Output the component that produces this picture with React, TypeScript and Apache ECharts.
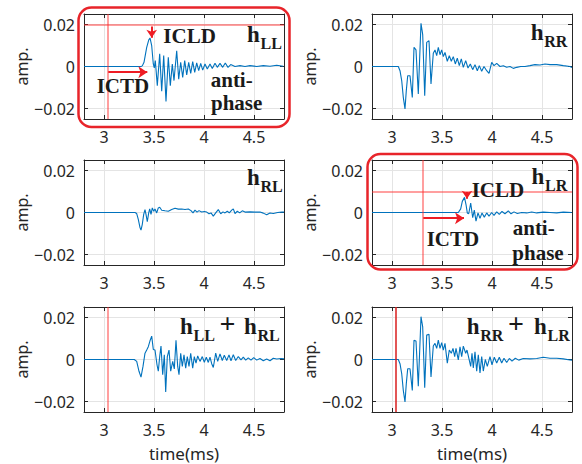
import React, { useEffect, useRef } from 'react';
import * as echarts from 'echarts';

// ---------- data (time in ms, amplitude) ----------
const timeMin = 2.8;
const timeMax = 4.8;
const ampMin = -0.025;
const ampMax = 0.025;

const hLL: [number, number][] = [
  [2.8, 0], [3.37, 0], [3.383, 0.0003], [3.4, 0.002], [3.427, 0.0091], [3.447, 0.0126], [3.46, 0.0136],
  [3.477, 0.0099], [3.493, 0.0012], [3.503, -0.0007], [3.513, 0.0028], [3.533, -0.0091], [3.557, 0.006],
  [3.577, -0.0118], [3.597, 0.0052], [3.62, -0.0166], [3.643, 0.0044], [3.663, -0.0091], [3.683, 0.0012],
  [3.7, -0.0067], [3.727, 0.0075], [3.747, -0.006], [3.767, 0.002], [3.787, -0.0052], [3.807, 0.0028],
  [3.827, -0.004], [3.847, 0.002], [3.867, -0.0033], [3.887, 0.0023], [3.907, -0.0028], [3.927, 0.0017],
  [3.947, -0.002], [3.967, 0.0015], [3.987, -0.0017], [4.01, 0.0012], [4.033, -0.0012], [4.06, 0.0012],
  [4.083, -0.0009], [4.11, 0.0015], [4.133, -0.0004], [4.16, 0.0015], [4.187, -0.0004], [4.213, 0.0017],
  [4.24, -0.0004], [4.267, 0.0009], [4.31, 0], [4.36, 0.0004], [4.41, 0], [4.46, 0.0004], [4.527, 0],
  [4.593, 0.0004], [4.66, 0.0001], [4.727, 0.0006], [4.793, 0.0001], [4.8, 0.0001],
];

const hRR: [number, number][] = [
  [2.8, 0], [3.063, 0], [3.08, -0.002], [3.097, -0.0067], [3.113, -0.0147], [3.13, -0.0202], [3.143, -0.0115],
  [3.157, -0.0044], [3.18, -0.0044], [3.203, -0.0147], [3.22, 0.0091], [3.24, 0.0079], [3.263, -0.0131],
  [3.29, 0.0206], [3.307, 0.0152], [3.327, -0.0139], [3.347, 0.0115], [3.37, 0.0123], [3.39, -0.0083],
  [3.413, 0.0063], [3.43, 0.0079], [3.447, 0.0052], [3.463, 0.0091], [3.48, 0.0056], [3.497, 0.0079],
  [3.513, 0.0047], [3.53, 0.0067], [3.553, 0.0025], [3.573, 0.0052], [3.593, 0.0025], [3.613, 0.0047],
  [3.633, 0.0012], [3.653, 0.004], [3.673, 0.0004], [3.693, 0.0036], [3.713, -0.0004], [3.737, 0.0028],
  [3.76, -0.0007], [3.783, 0.0012], [3.807, -0.0015], [3.83, 0.0009], [3.853, -0.002], [3.873, 0.0004],
  [3.897, -0.0023], [3.92, 0], [3.947, -0.002], [3.97, -0.0033], [3.997, 0.002], [4.02, 0.0004],
  [4.047, 0.0015], [4.08, 0], [4.113, 0.0004], [4.147, -0.0004], [4.18, 0], [4.213, -0.0009],
  [4.247, -0.0004], [4.287, 0], [4.33, 0], [4.38, 0.0004], [4.43, 0.0009], [4.48, 0.0007], [4.53, 0.0012],
  [4.58, 0.0009], [4.647, 0.0009], [4.713, 0.0004], [4.78, 0], [4.8, -0.0005],
];

const hRL: [number, number][] = [
  [2.8, 0], [3.31, 0], [3.327, -0.0005], [3.343, -0.0033], [3.36, -0.0072], [3.37, -0.0084], [3.383, -0.0056],
  [3.397, -0.0009], [3.41, 0.0014], [3.42, -0.0009], [3.433, -0.0044], [3.447, -0.0002], [3.457, 0.0017],
  [3.47, -0.0009], [3.483, 0.0022], [3.497, 0.0006], [3.51, 0.0017], [3.527, -0.0002], [3.543, 0.0022],
  [3.557, 0.0025], [3.577, 0.0011], [3.61, 0.0008], [3.643, 0.0006], [3.677, 0.0014], [3.71, 0.002],
  [3.743, 0.0016], [3.777, 0.0017], [3.81, 0.0014], [3.843, 0.0017], [3.87, 0.0009], [3.89, -0.0002],
  [3.91, 0.0011], [3.93, 0.0002], [3.95, 0.0009], [3.977, 0.0002], [4.003, 0.0005], [4.027, 0.0002],
  [4.05, -0.0006], [4.07, -0.0002], [4.093, -0.0017], [4.117, -0.0002], [4.143, 0.0014], [4.167, -0.0006],
  [4.19, 0.0003], [4.21, -0.0002], [4.233, 0.0006], [4.253, -0.0002], [4.277, 0.0011], [4.293, 0.0017],
  [4.31, -0.0005], [4.333, 0.0006], [4.357, -0.0002], [4.383, 0.0008], [4.41, 0.0002], [4.46, 0.0003],
  [4.51, 0.0002], [4.56, 0.0002], [4.593, -0.0003], [4.627, -0.0011], [4.66, -0.0002], [4.693, -0.0005],
  [4.737, 0], [4.777, 0.0002], [4.8, 0.0002],
];

const hLR: [number, number][] = [
  [2.8, 0], [3.663, 0], [3.687, 0.0017], [3.703, 0.0053], [3.725, 0.0072], [3.74, 0.0038], [3.753, -0.0002],
  [3.767, -0.0006], [3.787, 0.0045], [3.807, -0.0025], [3.823, 0.0011], [3.84, -0.0041], [3.86, -0.0002],
  [3.88, -0.0028], [3.9, -0.0002], [3.923, -0.0022], [3.947, -0.0002], [3.97, -0.0017], [3.997, 0],
  [4.02, -0.0014], [4.047, 0.0003], [4.073, -0.0009], [4.1, 0.0005], [4.13, -0.0006], [4.163, 0.0008],
  [4.19, -0.0006], [4.22, 0.0003], [4.253, -0.0005], [4.297, 0], [4.347, -0.0002], [4.397, 0.0002],
  [4.447, -0.0002], [4.513, 0.0002], [4.58, 0], [4.647, -0.0002], [4.713, 0.0002], [4.797, 0], [4.8, 0],
];

const hLLplusRL: [number, number][] = [
  [2.8, 0], [3.303, 0], [3.327, -0.0009], [3.35, -0.0056], [3.37, -0.0084], [3.39, -0.0033], [3.41, 0.003],
  [3.427, 0.0045], [3.443, 0.0061], [3.46, 0.0089], [3.477, 0.0111], [3.493, 0.0048], [3.51, 0.0045],
  [3.53, -0.0025], [3.543, -0.0056], [3.557, 0.0014], [3.57, 0.0064], [3.587, -0.0072], [3.603, 0.0022],
  [3.617, -0.0155], [3.633, 0.0014], [3.65, 0.0045], [3.667, -0.0056], [3.687, -0.0009], [3.703, -0.0045],
  [3.72, 0.0092], [3.737, -0.0033], [3.75, -0.0072], [3.767, 0.003], [3.783, -0.0033], [3.8, 0.0022],
  [3.817, -0.0041], [3.833, 0.0014], [3.85, -0.0033], [3.867, 0.003], [3.887, -0.0041], [3.903, 0.0014],
  [3.92, -0.0017], [3.937, 0.0017], [3.96, -0.0009], [3.983, 0.0014], [4.003, -0.0013], [4.023, 0.0011],
  [4.043, -0.0014], [4.06, 0.0011], [4.077, -0.002], [4.093, -0.0038], [4.117, 0.003], [4.137, -0.0009],
  [4.16, 0.0027], [4.183, -0.0005], [4.203, 0.002], [4.227, -0.0005], [4.25, 0.0022], [4.27, -0.0006],
  [4.293, 0.0023], [4.317, -0.0005], [4.343, 0.0014], [4.37, -0.0002], [4.393, 0.0011], [4.417, -0.0003],
  [4.443, 0.0008], [4.47, -0.0003], [4.497, 0.0009], [4.527, -0.0003], [4.56, 0.0005], [4.593, -0.0006],
  [4.627, 0.0002], [4.66, -0.0006], [4.693, 0.0006], [4.727, 0.0002], [4.77, 0.0005], [4.8, 0.0003],
];

const hRRplusLR: [number, number][] = [
  [2.8, 0], [3.063, 0], [3.08, -0.002], [3.097, -0.0067], [3.113, -0.0147], [3.13, -0.0202], [3.143, -0.0115],
  [3.157, -0.0044], [3.18, -0.0044], [3.203, -0.0147], [3.22, 0.0091], [3.24, 0.0088], [3.263, -0.0127],
  [3.29, 0.0204], [3.307, 0.0155], [3.327, -0.0134], [3.347, 0.0116], [3.37, 0.012], [3.39, -0.0083],
  [3.413, 0.0064], [3.43, 0.0077], [3.447, 0.0053], [3.463, 0.0092], [3.48, 0.0053], [3.497, 0.008],
  [3.513, 0.0045], [3.53, 0.0077], [3.553, -0.0017], [3.573, 0.0045], [3.593, 0.003], [3.61, 0.0053],
  [3.627, 0.0014], [3.64, 0.0053], [3.663, -0.0002], [3.68, 0.006], [3.697, 0.0014], [3.713, 0.0064],
  [3.737, 0.003], [3.75, 0.0045], [3.787, -0.0033], [3.8, 0.003], [3.813, -0.004], [3.83, 0.0037],
  [3.847, -0.0056], [3.863, 0.0022], [3.88, -0.0064], [3.897, 0.0014], [3.913, -0.0055], [3.933, 0],
  [3.953, -0.0033], [3.98, 0.0014], [4.0, -0.0025], [4.023, 0.0011], [4.047, -0.0017], [4.073, 0.0011],
  [4.097, -0.0017], [4.12, 0.0006], [4.147, -0.0014], [4.173, 0.0005], [4.2, -0.0008], [4.233, 0.0006],
  [4.267, -0.0003], [4.313, 0.0005], [4.38, 0.0003], [4.447, 0.0005], [4.513, 0.0011], [4.58, 0.0006],
  [4.647, 0.0006], [4.713, 0.0003], [4.78, -0.0002], [4.8, -0.0003],
];

// panel order: row-major, left then right
const panelData = [hLL, hRR, hRL, hLR, hLLplusRL, hRRplusLR];
// red reference lines per panel (null = none)
const refTimes: (number | null)[] = [3.043, null, null, 3.313, 3.043, 3.035];
const refAmps: (number | null)[] = [0.0198, null, null, 0.01, null, null];
// ICTD arrows: [panel, fromTime, toTime, amp]
const ictdArrows: [number, number, number, number][] = [
  [0, 3.043, 3.433, -0.0027],
  [3, 3.313, 3.72, -0.0027],
];
// ICLD arrows: [panel, time, fromAmp, toAmp]
const icldArrows: [number, number, number, number][] = [
  [0, 3.477, 0.019, 0.0137],
  [3, 3.75, 0.0098, 0.0066],
];

const xTickLabel = (v: number) => {
  const r = Math.round(v * 10) / 10;
  return String(r);
};
const yTickLabel = (v: number) => {
  if (Math.abs(v) < 1e-9) return '0';
  return (v < 0 ? '\u22120.' : '0.') + Math.abs(v).toFixed(2).split('.')[1];
};

export default function App() {
  const ref = useRef<HTMLDivElement>(null);

  useEffect(() => {
    document.body.style.margin = '0';
    if (!ref.current) return;
    const chart = echarts.init(ref.current, undefined, { renderer: 'svg' });

    const lefts = [84, 372];
    const tops = [14, 160, 307];
    const W = 200;
    const H = 105;
    const axisColor = '#262626';
    const gridColor = '#e4e4e4';
    const labelFont = { fontFamily: '"Noto Sans", sans-serif', fontSize: 16, color: axisColor };

    const grids: any[] = [];
    const xAxes: any[] = [];
    const yAxes: any[] = [];
    const series: any[] = [];

    panelData.forEach((data, i) => {
      const row = Math.floor(i / 2);
      const col = i % 2;
      grids.push({
        left: lefts[col], top: tops[row], width: W, height: H,
        show: false, containLabel: false, outerBoundsMode: 'none',
      });
      const common = {
        type: 'value', gridIndex: i, min: timeMin, max: timeMax, splitNumber: 4,
        axisLine: { show: true, onZero: false, lineStyle: { color: axisColor, width: 1 } },
        axisTick: { show: true, inside: true, length: 4, lineStyle: { color: axisColor } },
      };
      xAxes.push({
        ...common,
        position: 'bottom',
        name: row === 2 ? 'time(ms)' : '',
        nameLocation: 'middle', nameGap: 33,
        nameTextStyle: { ...labelFont, fontSize: 17 },
        axisLabel: { ...labelFont, margin: 10, showMinLabel: false, showMaxLabel: false, formatter: xTickLabel },
        splitLine: { show: true, lineStyle: { color: gridColor, width: 1 } },
      });
      xAxes.push({
        ...common,
        position: 'top',
        axisLabel: { show: false },
        splitLine: { show: false },
      });
      const ycommon = {
        type: 'value', gridIndex: i, min: ampMin, max: ampMax, splitNumber: 3,
        axisLine: { show: true, onZero: false, lineStyle: { color: axisColor, width: 1 } },
        axisTick: { show: true, inside: true, length: 4, lineStyle: { color: axisColor } },
      };
      yAxes.push({
        ...ycommon,
        position: 'left',
        name: 'amp.',
        nameLocation: 'middle', nameGap: 52,
        nameTextStyle: { ...labelFont },
        axisLabel: { ...labelFont, margin: 9, showMinLabel: false, showMaxLabel: false, formatter: yTickLabel },
        splitLine: { show: true, lineStyle: { color: gridColor, width: 1 } },
      });
      yAxes.push({
        ...ycommon,
        position: 'right',
        axisLabel: { show: false },
        splitLine: { show: false },
      });

      const lightRed = 'rgba(255,40,40,0.6)';
      const darkRed = '#d81e1e';
      const mlData: any[] = [];
      const rt = refTimes[i];
      if (rt !== null) {
        mlData.push({ xAxis: rt, symbol: 'none', lineStyle: { color: i === 5 ? darkRed : lightRed, width: 1.5, type: 'solid' } });
      }
      const ra = refAmps[i];
      if (ra !== null) {
        mlData.push({ yAxis: ra, symbol: 'none', lineStyle: { color: lightRed, width: 1.5, type: 'solid' } });
      }
      const arrowStyle = { color: '#ee1c24', width: 2, type: 'solid' };
      ictdArrows.filter(a => a[0] === i).forEach(a => {
        mlData.push([
          { coord: [a[1], a[3]], symbol: 'none', lineStyle: arrowStyle },
          { coord: [a[2], a[3]], symbol: 'arrow', symbolSize: 9, lineStyle: arrowStyle },
        ]);
      });
      icldArrows.filter(a => a[0] === i).forEach(a => {
        mlData.push([
          { coord: [a[1], a[2]], symbol: 'none', lineStyle: arrowStyle },
          { coord: [a[1], a[3]], symbol: 'arrow', symbolSize: 8, lineStyle: arrowStyle },
        ]);
      });

      series.push({
        type: 'line',
        xAxisIndex: 2 * i,
        yAxisIndex: 2 * i,
        data,
        showSymbol: false,
        symbol: 'none',
        silent: true,
        lineStyle: { color: '#0072BD', width: 1.1 },
        z: 3,
        markLine: {
          silent: true,
          symbol: 'none',
          label: { show: false },
          emphasis: { disabled: true },
          data: mlData,
          z: 4,
        },
      });
    });

    const serif = '"Liberation Serif", "Times New Roman", serif';
    const txt = (text: string, x: number, baseline: number, size: number, align = 'left') => ({
      type: 'text',
      x,
      y: baseline - 0.34 * size,
      z: 100,
      silent: true,
      style: {
        text,
        font: `bold ${size}px ${serif}`,
        fill: '#1a1a1a',
        align, verticalAlign: 'middle',
        textAlign: align, textVerticalAlign: 'middle',
      },
    });
    const hsub = (x: number, baseline: number, sub: string) => [
      txt('h', x, baseline, 23),
      txt(sub, x + 13.5, baseline + 6.5, 16),
    ];
    const plus = (cx: number, baseline: number) => txt('+', cx, baseline - 1, 28, 'center');

    const elements: any[] = [
      ...hsub(247, 42, 'LL'),
      ...hsub(530.7, 40.7, 'RR'),
      ...hsub(247, 185, 'RL'),
      ...hsub(531.5, 184, 'LR'),
      ...hsub(180, 334.3, 'LL'),
      plus(227.5, 334.3),
      ...hsub(244, 334.3, 'RL'),
      ...hsub(466.7, 334, 'RR'),
      plus(516, 334),
      ...hsub(534, 334, 'LR'),
      txt('ICLD', 163.3, 43.3, 21),
      txt('ICTD', 96.7, 93.3, 21),
      txt('anti-', 210.7, 87, 21),
      txt('phase', 211, 110.5, 21),
      txt('ICLD', 471.7, 197.3, 21),
      txt('ICTD', 426.7, 246, 21),
      txt('anti-', 512.7, 235, 21),
      txt('phase', 512.3, 260.5, 21),
      {
        type: 'rect', z: 90, silent: true,
        shape: { x: 78.5, y: 7.5, width: 211, height: 119.5, r: 13 },
        style: { fill: 'none', stroke: '#e8242a', lineWidth: 2.5 },
      },
      {
        type: 'rect', z: 90, silent: true,
        shape: { x: 367.5, y: 154, width: 210, height: 115.5, r: 13 },
        style: { fill: 'none', stroke: '#e8242a', lineWidth: 2.5 },
      },
    ];

    chart.setOption({
      animation: false,
      backgroundColor: '#ffffff',
      grid: grids,
      xAxis: xAxes,
      yAxis: yAxes,
      series,
      graphic: { elements },
    });

    return () => chart.dispose();
  }, []);

  return <div ref={ref} style={{ width: 582, height: 464 }} />;
}
